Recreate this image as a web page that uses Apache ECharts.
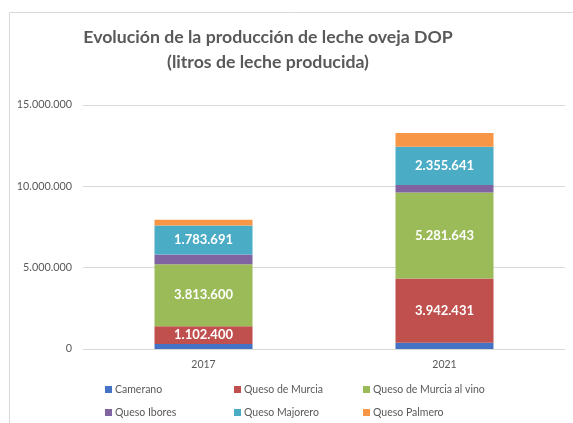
<!DOCTYPE html>
<html><head><meta charset="utf-8">
<script src="https://cdn.jsdelivr.net/npm/echarts@6/dist/echarts.min.js"></script>
<style>html,body{margin:0;padding:0;background:#fff}#c{width:573px;height:423px}</style>
</head><body><div id="c"></div>
<script>
const categories = ['2017', '2021'];
const seriesNames = ['Camerano', 'Queso de Murcia', 'Queso de Murcia al vino', 'Queso Ibores', 'Queso Majorero', 'Queso Palmero'];
const camerano = [300000, 390000];
const quesoMurcia = [1102400, 3942431];
const quesoMurciaVino = [3813600, 5281643];
const quesoIbores = [600000, 470000];
const quesoMajorero = [1783691, 2355641];
const quesoPalmero = [350000, 840000];
const showLabels = [false, true, true, false, true, false];
const yTicks = [0, 5000000, 10000000, 15000000];
const colors = ['#4472C4', '#C0504D', '#9BBB59', '#8064A2', '#4BACC6', '#F79646'];

const values = [camerano, quesoMurcia, quesoMurciaVino, quesoIbores, quesoMajorero, quesoPalmero];
const fmt = v => String(Math.round(v)).replace(/\B(?=(\d{3})+(?!\d))/g, '.');
const font = 'Lato, "Open Sans", sans-serif';

const legendPos = [[105, 384], [234, 384], [363, 384], [105, 407], [234, 407], [363, 407]];

const chart = echarts.init(document.getElementById('c'), null, {renderer: 'canvas'});
chart.setOption({
  animation: false,
  backgroundColor: '#fff',
  color: colors,
  title: {
    text: 'Evolución de la producción de leche oveja DOP\n(litros de leche producida)',
    left: 263, top: 20, textAlign: 'center',
    textStyle: {fontFamily: font, fontSize: 17.7, fontWeight: 'bold', color: '#595959', lineHeight: 25}
  },
  graphic: [{type: 'rect', shape: {x: 9.5, y: 12.5, width: 700, height: 600}, style: {fill: null, stroke: '#d9d9d9', lineWidth: 1}, silent: true, z: -1}],
  legend: seriesNames.map((n, i) => ({
    data: [n], left: legendPos[i][0], top: legendPos[i][1], padding: 0,
    itemWidth: 7, itemHeight: 7, icon: 'rect', itemGap: 0,
    textStyle: {fontFamily: font, fontSize: 10.5, color: '#595959', padding: [0, 0, 0, -2]}
  })),
  grid: {left: 83, right: 8, top: 105, bottom: 74, containLabel: false},
  xAxis: {
    type: 'category', data: categories,
    axisLine: {lineStyle: {color: '#d9d9d9'}}, axisTick: {show: false},
    axisLabel: {fontFamily: font, fontSize: 10.5, color: '#595959', margin: 10}
  },
  yAxis: {
    type: 'value', min: yTicks[0], max: yTicks[yTicks.length - 1], interval: 5000000,
    axisLine: {show: false}, axisTick: {show: false},
    splitLine: {lineStyle: {color: '#d9d9d9'}},
    axisLabel: {fontFamily: font, fontSize: 10.8, color: '#595959', margin: 11, formatter: v => fmt(v)}
  },
  series: seriesNames.map((n, i) => ({
    name: n, type: 'bar', stack: 'total', barWidth: 98,
    data: values[i],
    itemStyle: {color: colors[i]},
    label: {show: showLabels[i], position: 'inside', color: '#fff', fontFamily: font, fontSize: 13, fontWeight: 'bold', formatter: p => fmt(p.value)}
  }))
});
</script></body></html>
